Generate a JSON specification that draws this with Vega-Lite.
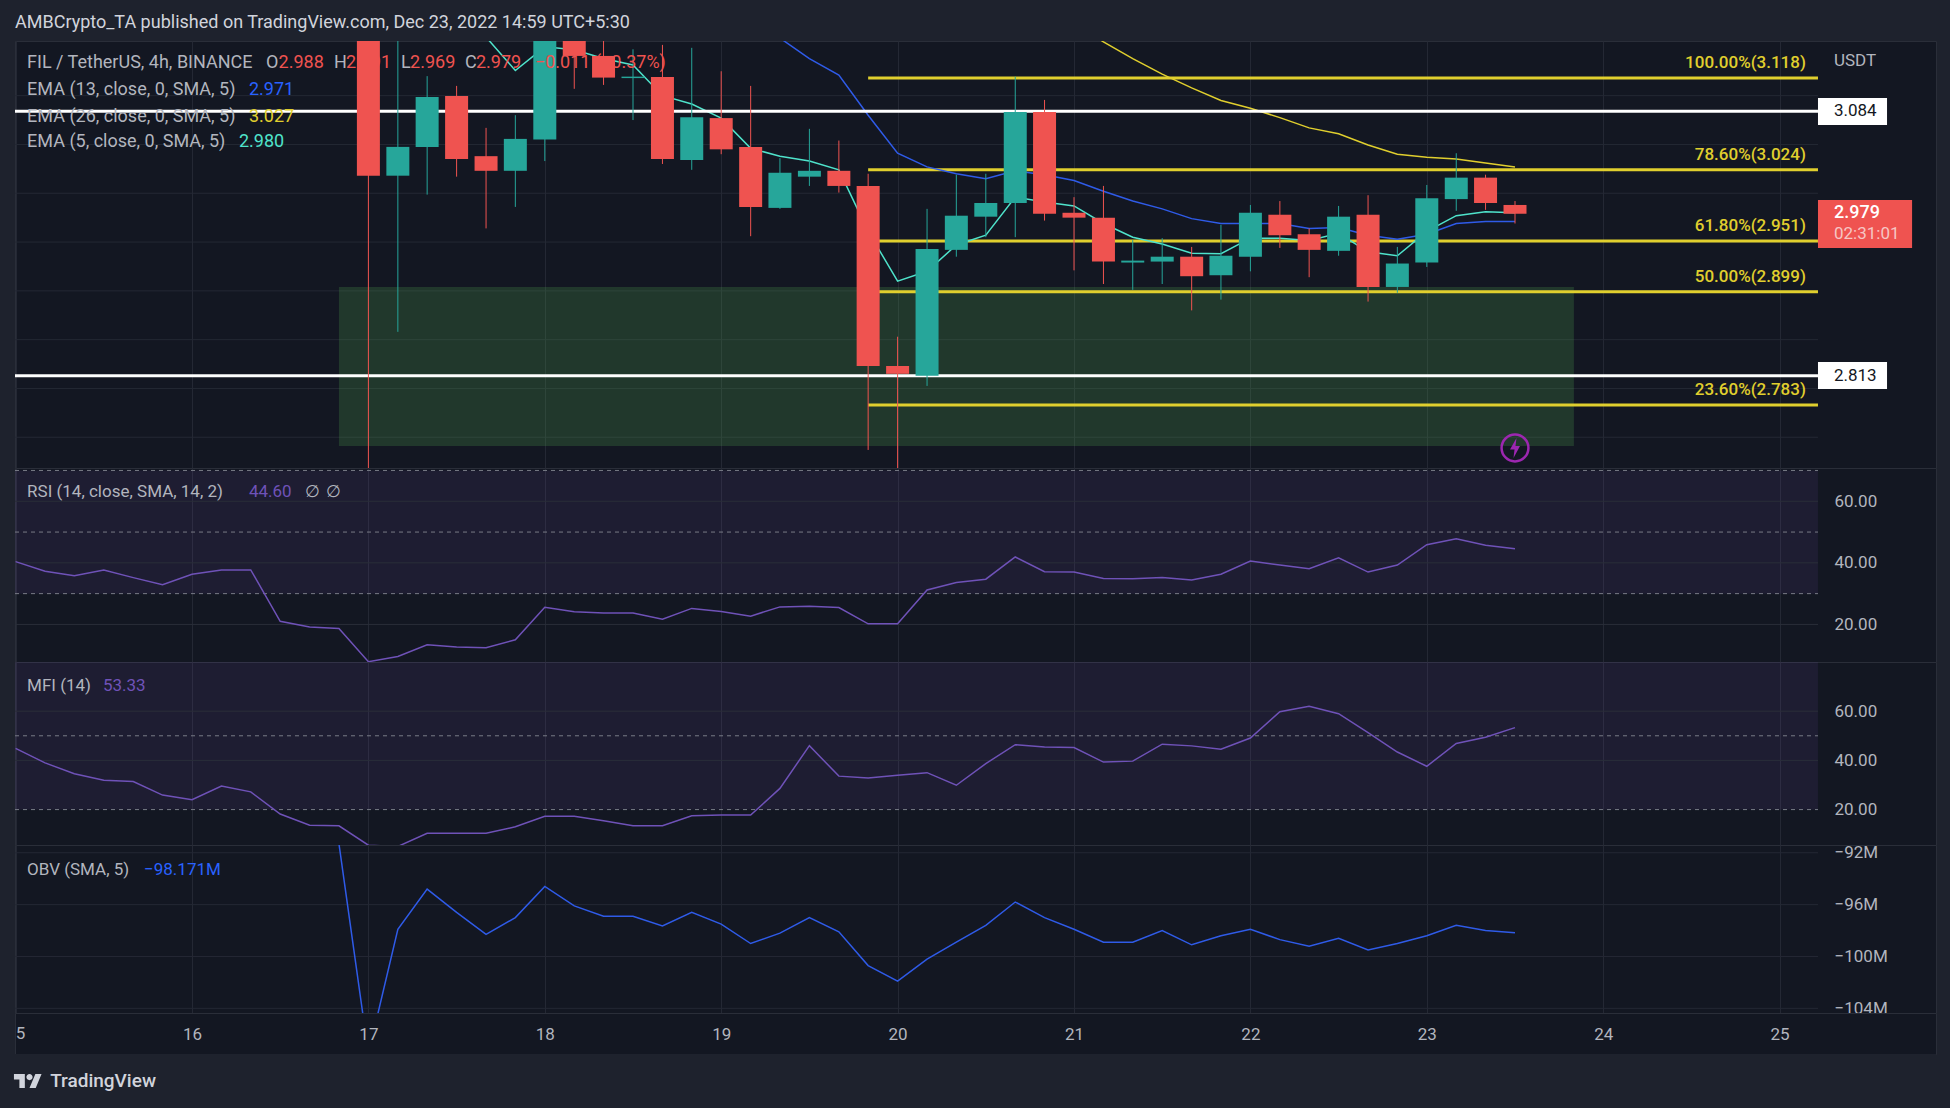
{"$schema":"https://vega.github.io/schema/vega-lite/v6.json","background":"#1e222d","padding":{"left":13,"top":13,"right":14,"bottom":0},"bounds":"flush","spacing":0,
"title":{"text":"AMBCrypto_TA published on TradingView.com, Dec 23, 2022 14:59 UTC+5:30","anchor":"start","frame":"group","font":"Roboto","fontSize":18,"fontWeight":400,"color":"#d1d4dc","offset":9,"dx":0},
"config":{"view":{"stroke":"#2a2e39","fill":"#131722"},"font":"Roboto","axis":{"labelFont":"Roboto","labelFontSize":17,"labelColor":"#b2b5be"}},
"datasets":{
"candles":[
{"t":17.0,"o":3.175,"h":3.2,"l":2.7,"c":3.018,"dir":"down"},{"t":17.167,"o":3.018,"h":3.17,"l":2.858,"c":3.0475,"dir":"up"},{"t":17.333,"o":3.0475,"h":3.12,"l":2.9986,"c":3.0987,"dir":"up"},{"t":17.5,"o":3.0997,"h":3.11,"l":3.017,"c":3.035,"dir":"down"},{"t":17.667,"o":3.038,"h":3.067,"l":2.964,"c":3.023,"dir":"down"},{"t":17.833,"o":3.023,"h":3.08,"l":2.986,"c":3.0557,"dir":"up"},{"t":18.0,"o":3.055,"h":3.19,"l":3.033,"c":3.17,"dir":"up"},{"t":18.167,"o":3.17,"h":3.2,"l":3.107,"c":3.1407,"dir":"down"},{"t":18.333,"o":3.1407,"h":3.16,"l":3.111,"c":3.1185,"dir":"down"},{"t":18.5,"o":3.118,"h":3.1475,"l":3.075,"c":3.1195,"dir":"up"},{"t":18.667,"o":3.119,"h":3.152,"l":3.03,"c":3.035,"dir":"down"},{"t":18.833,"o":3.034,"h":3.149,"l":3.024,"c":3.078,"dir":"up"},{"t":19.0,"o":3.077,"h":3.125,"l":3.04,"c":3.045,"dir":"down"},{"t":19.167,"o":3.0475,"h":3.11,"l":2.956,"c":2.986,"dir":"down"},{"t":19.333,"o":2.985,"h":3.036,"l":2.984,"c":3.021,"dir":"up"},{"t":19.5,"o":3.017,"h":3.066,"l":3.0075,"c":3.023,"dir":"up"},{"t":19.667,"o":3.023,"h":3.054,"l":3.0007,"c":3.0075,"dir":"down"},{"t":19.833,"o":3.0075,"h":3.02,"l":2.737,"c":2.823,"dir":"down"},{"t":20.0,"o":2.823,"h":2.853,"l":2.7,"c":2.815,"dir":"down"},{"t":20.167,"o":2.813,"h":2.984,"l":2.8026,"c":2.943,"dir":"up"},{"t":20.333,"o":2.942,"h":3.019,"l":2.935,"c":2.977,"dir":"up"},{"t":20.5,"o":2.976,"h":3.02,"l":2.955,"c":2.99,"dir":"up"},{"t":20.667,"o":2.99,"h":3.1195,"l":2.955,"c":3.0833,"dir":"up"},{"t":20.833,"o":3.0833,"h":3.0956,"l":2.972,"c":2.979,"dir":"down"},{"t":21.0,"o":2.98,"h":2.996,"l":2.921,"c":2.975,"dir":"down"},{"t":21.167,"o":2.975,"h":3.0075,"l":2.907,"c":2.93,"dir":"down"},{"t":21.333,"o":2.929,"h":2.952,"l":2.901,"c":2.931,"dir":"up"},{"t":21.5,"o":2.93,"h":2.954,"l":2.907,"c":2.935,"dir":"up"},{"t":21.667,"o":2.935,"h":2.945,"l":2.88,"c":2.915,"dir":"down"},{"t":21.833,"o":2.916,"h":2.9676,"l":2.891,"c":2.936,"dir":"up"},{"t":22.0,"o":2.935,"h":2.988,"l":2.92,"c":2.98,"dir":"up"},{"t":22.167,"o":2.978,"h":2.992,"l":2.944,"c":2.957,"dir":"down"},{"t":22.333,"o":2.958,"h":2.964,"l":2.914,"c":2.942,"dir":"down"},{"t":22.5,"o":2.941,"h":2.987,"l":2.936,"c":2.976,"dir":"up"},{"t":22.667,"o":2.978,"h":2.998,"l":2.889,"c":2.904,"dir":"down"},{"t":22.833,"o":2.904,"h":2.945,"l":2.898,"c":2.928,"dir":"up"},{"t":23.0,"o":2.929,"h":3.0085,"l":2.9245,"c":2.995,"dir":"up"},{"t":23.167,"o":2.994,"h":3.041,"l":2.982,"c":3.016,"dir":"up"},{"t":23.333,"o":3.016,"h":3.019,"l":2.983,"c":2.99,"dir":"down"},{"t":23.5,"o":2.988,"h":2.992,"l":2.969,"c":2.979,"dir":"down"}],
"ema":[
{"s":"EMA5","t":17.5,"v":3.2},{"s":"EMA5","t":17.667,"v":3.16},{"s":"EMA5","t":17.833,"v":3.1257},{"s":"EMA5","t":18.0,"v":3.15},{"s":"EMA5","t":18.167,"v":3.147},{"s":"EMA5","t":18.333,"v":3.138},{"s":"EMA5","t":18.5,"v":3.1315},{"s":"EMA5","t":18.667,"v":3.1},{"s":"EMA5","t":18.833,"v":3.0915},{"s":"EMA5","t":19.0,"v":3.077},{"s":"EMA5","t":19.167,"v":3.046},{"s":"EMA5","t":19.333,"v":3.038},{"s":"EMA5","t":19.5,"v":3.033},{"s":"EMA5","t":19.667,"v":3.024},{"s":"EMA5","t":19.833,"v":2.961},{"s":"EMA5","t":20.0,"v":2.91},{"s":"EMA5","t":20.167,"v":2.92},{"s":"EMA5","t":20.333,"v":2.947},{"s":"EMA5","t":20.5,"v":2.957},{"s":"EMA5","t":20.667,"v":2.996},{"s":"EMA5","t":20.833,"v":2.991},{"s":"EMA5","t":21.0,"v":2.987},{"s":"EMA5","t":21.167,"v":2.969},{"s":"EMA5","t":21.333,"v":2.955},{"s":"EMA5","t":21.5,"v":2.948},{"s":"EMA5","t":21.667,"v":2.9385},{"s":"EMA5","t":21.833,"v":2.938},{"s":"EMA5","t":22.0,"v":2.954},{"s":"EMA5","t":22.167,"v":2.954},{"s":"EMA5","t":22.333,"v":2.9515},{"s":"EMA5","t":22.5,"v":2.959},{"s":"EMA5","t":22.667,"v":2.94},{"s":"EMA5","t":22.833,"v":2.936},{"s":"EMA5","t":23.0,"v":2.961},{"s":"EMA5","t":23.167,"v":2.977},{"s":"EMA5","t":23.333,"v":2.981},{"s":"EMA5","t":23.5,"v":2.98},
{"s":"EMA13","t":19.167,"v":3.2},{"s":"EMA13","t":19.333,"v":3.159},{"s":"EMA13","t":19.5,"v":3.138},{"s":"EMA13","t":19.667,"v":3.121},{"s":"EMA13","t":19.833,"v":3.08},{"s":"EMA13","t":20.0,"v":3.041},{"s":"EMA13","t":20.167,"v":3.027},{"s":"EMA13","t":20.333,"v":3.02},{"s":"EMA13","t":20.5,"v":3.015},{"s":"EMA13","t":20.667,"v":3.023},{"s":"EMA13","t":20.833,"v":3.019},{"s":"EMA13","t":21.0,"v":3.013},{"s":"EMA13","t":21.167,"v":3.002},{"s":"EMA13","t":21.333,"v":2.992},{"s":"EMA13","t":21.5,"v":2.984},{"s":"EMA13","t":21.667,"v":2.974},{"s":"EMA13","t":21.833,"v":2.969},{"s":"EMA13","t":22.0,"v":2.969},{"s":"EMA13","t":22.167,"v":2.969},{"s":"EMA13","t":22.333,"v":2.964},{"s":"EMA13","t":22.5,"v":2.965},{"s":"EMA13","t":22.667,"v":2.957},{"s":"EMA13","t":22.833,"v":2.953},{"s":"EMA13","t":23.0,"v":2.958},{"s":"EMA13","t":23.167,"v":2.969},{"s":"EMA13","t":23.333,"v":2.971},{"s":"EMA13","t":23.5,"v":2.971},
{"s":"EMA26","t":21.0,"v":3.175},{"s":"EMA26","t":21.167,"v":3.155},{"s":"EMA26","t":21.333,"v":3.138},{"s":"EMA26","t":21.5,"v":3.122},{"s":"EMA26","t":21.667,"v":3.108},{"s":"EMA26","t":21.833,"v":3.095},{"s":"EMA26","t":22.0,"v":3.087},{"s":"EMA26","t":22.167,"v":3.0775},{"s":"EMA26","t":22.333,"v":3.067},{"s":"EMA26","t":22.5,"v":3.061},{"s":"EMA26","t":22.667,"v":3.0495},{"s":"EMA26","t":22.833,"v":3.04},{"s":"EMA26","t":23.0,"v":3.037},{"s":"EMA26","t":23.167,"v":3.035},{"s":"EMA26","t":23.333,"v":3.031},{"s":"EMA26","t":23.5,"v":3.027}],
"rsi":[{"t":15.0,"v":40.4},{"t":15.167,"v":37.25},{"t":15.333,"v":35.8},{"t":15.5,"v":37.7},{"t":15.667,"v":35.2},{"t":15.833,"v":32.9},{"t":16.0,"v":36.3},{"t":16.167,"v":37.7},{"t":16.333,"v":37.7},{"t":16.5,"v":21},{"t":16.667,"v":19.2},{"t":16.833,"v":18.7},{"t":17.0,"v":7.9},{"t":17.167,"v":9.6},{"t":17.333,"v":13.4},{"t":17.5,"v":12.7},{"t":17.667,"v":12.4},{"t":17.833,"v":15},{"t":18.0,"v":25.6},{"t":18.167,"v":24.1},{"t":18.333,"v":23.7},{"t":18.5,"v":23.7},{"t":18.667,"v":21.7},{"t":18.833,"v":25.2},{"t":19.0,"v":24.2},{"t":19.167,"v":22.7},{"t":19.333,"v":25.7},{"t":19.5,"v":25.9},{"t":19.667,"v":25.5},{"t":19.833,"v":20.2},{"t":20.0,"v":20.2},{"t":20.167,"v":31.2},{"t":20.333,"v":33.6},{"t":20.5,"v":34.7},{"t":20.667,"v":41.9},{"t":20.833,"v":37.1},{"t":21.0,"v":37},{"t":21.167,"v":34.9},{"t":21.333,"v":34.8},{"t":21.5,"v":35.2},{"t":21.667,"v":34.4},{"t":21.833,"v":36.3},{"t":22.0,"v":40.6},{"t":22.167,"v":39.3},{"t":22.333,"v":38.1},{"t":22.5,"v":41.6},{"t":22.667,"v":37},{"t":22.833,"v":39.3},{"t":23.0,"v":45.9},{"t":23.167,"v":47.8},{"t":23.333,"v":45.7},{"t":23.5,"v":44.6}],
"mfi":[{"t":15.0,"v":44.9},{"t":15.167,"v":39},{"t":15.333,"v":34.6},{"t":15.5,"v":31.9},{"t":15.667,"v":31.4},{"t":15.833,"v":25.9},{"t":16.0,"v":24},{"t":16.167,"v":29.6},{"t":16.333,"v":27.2},{"t":16.5,"v":18.2},{"t":16.667,"v":13.6},{"t":16.833,"v":13.4},{"t":17.0,"v":5.5},{"t":17.167,"v":5},{"t":17.333,"v":10.4},{"t":17.5,"v":10.4},{"t":17.667,"v":10.4},{"t":17.833,"v":13},{"t":18.0,"v":17.3},{"t":18.167,"v":17.3},{"t":18.333,"v":15.5},{"t":18.5,"v":13.4},{"t":18.667,"v":13.4},{"t":18.833,"v":17.5},{"t":19.0,"v":17.8},{"t":19.167,"v":17.8},{"t":19.333,"v":28.6},{"t":19.5,"v":46},{"t":19.667,"v":33.6},{"t":19.833,"v":32.8},{"t":20.0,"v":34},{"t":20.167,"v":35},{"t":20.333,"v":29.9},{"t":20.5,"v":38.7},{"t":20.667,"v":46.4},{"t":20.833,"v":45.4},{"t":21.0,"v":45.2},{"t":21.167,"v":39.3},{"t":21.333,"v":39.7},{"t":21.5,"v":46.6},{"t":21.667,"v":45.9},{"t":21.833,"v":44.5},{"t":22.0,"v":49.1},{"t":22.167,"v":59.8},{"t":22.333,"v":62},{"t":22.5,"v":59},{"t":22.667,"v":51.3},{"t":22.833,"v":43.4},{"t":23.0,"v":37.6},{"t":23.167,"v":46.9},{"t":23.333,"v":49.4},{"t":23.5,"v":53.33}],
"obv":[{"t":16.833,"v":-91.3},{"t":17.0,"v":-107.5},{"t":17.167,"v":-97.9},{"t":17.333,"v":-94.8},{"t":17.5,"v":-96.6},{"t":17.667,"v":-98.3},{"t":17.833,"v":-97},{"t":18.0,"v":-94.6},{"t":18.167,"v":-96.1},{"t":18.333,"v":-96.9},{"t":18.5,"v":-96.9},{"t":18.667,"v":-97.65},{"t":18.833,"v":-96.6},{"t":19.0,"v":-97.5},{"t":19.167,"v":-99},{"t":19.333,"v":-98.2},{"t":19.5,"v":-97},{"t":19.667,"v":-98.1},{"t":19.833,"v":-100.7},{"t":20.0,"v":-101.9},{"t":20.167,"v":-100.2},{"t":20.333,"v":-98.9},{"t":20.5,"v":-97.6},{"t":20.667,"v":-95.8},{"t":20.833,"v":-97},{"t":21.0,"v":-97.9},{"t":21.167,"v":-98.9},{"t":21.333,"v":-98.9},{"t":21.5,"v":-98},{"t":21.667,"v":-99.1},{"t":21.833,"v":-98.4},{"t":22.0,"v":-97.9},{"t":22.167,"v":-98.7},{"t":22.333,"v":-99.2},{"t":22.5,"v":-98.6},{"t":22.667,"v":-99.5},{"t":22.833,"v":-99},{"t":23.0,"v":-98.4},{"t":23.167,"v":-97.6},{"t":23.333,"v":-98},{"t":23.5,"v":-98.171}]
},
"vconcat":[
{"width":1921,"height":427,
"resolve":{"scale":{"color":"independent"}},
"encoding":{"x":{"field":"t","type":"quantitative","title":null,"scale":{"domain":[14.9966,25.8866],"nice":false,"zero":false,"padding":0},"axis":{"values":[15,16,17,18,19,20,21,22,23,24,25],"labels":false,"ticks":false,"domain":false,"grid":true,"gridColor":"#242834"}},
"y":{"field":"v","type":"quantitative","title":null,"scale":{"domain":[2.7185,3.156],"nice":false,"zero":false},"axis":{"orient":"right","offset":-118,"values":[2.75,2.8,2.85,2.9,2.95,3,3.05,3.1],"format":".3f","grid":false,"ticks":false,"domain":false,"labelPadding":16,"labelAlign":"left"}}},
"layer":[
{"data":{"values":[{"t":14.9966,"t2":25.2176,"v":2.75},{"t":14.9966,"t2":25.2176,"v":2.8},{"t":14.9966,"t2":25.2176,"v":2.85},{"t":14.9966,"t2":25.2176,"v":2.9},{"t":14.9966,"t2":25.2176,"v":2.95},{"t":14.9966,"t2":25.2176,"v":3},{"t":14.9966,"t2":25.2176,"v":3.05},{"t":14.9966,"t2":25.2176,"v":3.1}]},"mark":{"type":"rule","color":"#242834"},"encoding":{"x2":{"field":"t2"}}},
{"data":{"values":[{"t":16.833,"t2":23.834,"v":2.904,"v2":2.741}]},"mark":{"type":"rect","color":"#4b9b4a","opacity":0.25},"encoding":{"x2":{"field":"t2"},"y2":{"field":"v2"}}},
{"data":{"values":[{"t":19.833,"t2":25.2176,"v":3.118},{"t":19.833,"t2":25.2176,"v":3.024},{"t":19.833,"t2":25.2176,"v":2.951},{"t":19.833,"t2":25.2176,"v":2.899},{"t":19.833,"t2":25.2176,"v":2.783}]},"mark":{"type":"rule","color":"#e0cf2e","strokeWidth":3},"encoding":{"x2":{"field":"t2"}}},
{"data":{"name":"ema"},"mark":{"type":"line","strokeWidth":1.5,"clip":true},"encoding":{"detail":{"field":"s"},"color":{"field":"s","type":"nominal","legend":null,"scale":{"domain":["EMA5","EMA13","EMA26"],"range":["#4fe3cb","#2f5be8","#e0cf2e"]}}}},
{"data":{"values":[{"t":14.9966,"t2":25.2176,"v":3.084},{"t":14.9966,"t2":25.2176,"v":2.813}]},"mark":{"type":"rule","color":"#ffffff","strokeWidth":3},"encoding":{"x2":{"field":"t2"}}},
{"data":{"name":"candles"},"mark":{"type":"rule","strokeWidth":1,"clip":true},"encoding":{"y":{"field":"l","type":"quantitative","axis":null,"scale":{"domain":[2.7185,3.156],"nice":false,"zero":false}},"y2":{"field":"h"},"color":{"field":"dir","type":"nominal","legend":null,"scale":{"domain":["up","down"],"range":["#26a69a","#ef5350"]}}}},
{"data":{"name":"candles"},"mark":{"type":"bar","size":23,"orient":"vertical","clip":true},"encoding":{"y":{"field":"o","type":"quantitative","axis":null,"scale":{"domain":[2.7185,3.156],"nice":false,"zero":false}},"y2":{"field":"c"},"color":{"field":"dir","type":"nominal","legend":null,"scale":{"domain":["up","down"],"range":["#26a69a","#ef5350"]}}}},
{"data":{"values":[{"t":25.2176,"t2":25.609,"v":3.0976,"v2":3.07},{"t":25.2176,"t2":25.609,"v":2.8272,"v2":2.7995}]},"mark":{"type":"rect","color":"#ffffff"},"encoding":{"x2":{"field":"t2"},"y2":{"field":"v2"}}},
{"data":{"values":[{"t":25.2176,"t2":25.751,"v":2.9931,"v2":2.944}]},"mark":{"type":"rect","color":"#ef5350"},"encoding":{"x2":{"field":"t2"},"y2":{"field":"v2"}}},
{"data":{"values":[{"t":25.308,"v":3.084,"text":"3.084"},{"t":25.308,"v":2.813,"text":"2.813"}]},"mark":{"type":"text","align":"left","baseline":"middle","fontSize":17,"color":"#131722"},"encoding":{"text":{"field":"text"}}},
{"data":{"values":[{"t":25.308,"v":2.9798,"text":"2.979"}]},"mark":{"type":"text","align":"left","baseline":"middle","fontSize":18,"fontWeight":500,"color":"#ffffff"},"encoding":{"text":{"field":"text"}}},
{"data":{"values":[{"t":25.308,"v":2.958,"text":"02:31:01"}]},"mark":{"type":"text","align":"left","baseline":"middle","fontSize":17,"color":"#f6c6c4"},"encoding":{"text":{"field":"text"}}},
{"data":{"values":[{"t":25.308,"v":3.1356,"text":"USDT"}]},"mark":{"type":"text","align":"left","baseline":"middle","fontSize":17,"color":"#b2b5be"},"encoding":{"text":{"field":"text"}}},
{"data":{"values":[{"t":25.149,"v":3.118,"text":"100.00%(3.118)"},{"t":25.149,"v":3.024,"text":"78.60%(3.024)"},{"t":25.149,"v":2.951,"text":"61.80%(2.951)"},{"t":25.149,"v":2.899,"text":"50.00%(2.899)"},{"t":25.149,"v":2.783,"text":"23.60%(2.783)"}]},"mark":{"type":"text","align":"right","baseline":"middle","dy":-15,"fontSize":17,"fontWeight":500,"color":"#e0cf2e"},"encoding":{"text":{"field":"text"}}},
{"data":{"values":[{"t":15.065,"v":3.133,"text":"FIL / TetherUS, 4h, BINANCE","k":"label"},{"t":16.42,"v":3.133,"text":"O","k":"label"},{"t":16.491,"v":3.133,"text":"2.988","k":"red"},{"t":16.805,"v":3.133,"text":"H","k":"label"},{"t":16.873,"v":3.133,"text":"2.991","k":"red"},{"t":17.185,"v":3.133,"text":"L","k":"label"},{"t":17.236,"v":3.133,"text":"2.969","k":"red"},{"t":17.547,"v":3.133,"text":"C","k":"label"},{"t":17.61,"v":3.133,"text":"2.979","k":"red"},{"t":17.944,"v":3.133,"text":"−0.011 (−0.37%)","k":"red"},{"t":15.065,"v":3.1058,"text":"EMA (13, close, 0, SMA, 5)","k":"label"},{"t":16.323,"v":3.1058,"text":"2.971","k":"blue"},{"t":15.065,"v":3.0785,"text":"EMA (26, close, 0, SMA, 5)","k":"label"},{"t":16.323,"v":3.0785,"text":"3.027","k":"yellow"},{"t":15.065,"v":3.0526,"text":"EMA (5, close, 0, SMA, 5)","k":"label"},{"t":16.266,"v":3.0526,"text":"2.980","k":"teal"}]},"mark":{"type":"text","align":"left","baseline":"middle","fontSize":18},"encoding":{"text":{"field":"text"},"color":{"field":"k","type":"nominal","legend":null,"scale":{"domain":["label","red","blue","yellow","teal"],"range":["#b2b5be","#ef5350","#2962ff","#e0cf2e","#4fe3cb"]}}}},
{"data":{"values":[{"t":23.5,"v":2.739}]},"mark":{"type":"point","shape":"circle","size":720,"stroke":"#9c27b0","strokeWidth":2.5,"opacity":1,"filled":false},"encoding":{}},
{"data":{"values":[{"t":23.5,"v":2.739}]},"mark":{"type":"point","shape":"M0.15,-1 L-0.5,0.15 L-0.05,0.15 L-0.15,1 L0.5,-0.2 L0.05,-0.2 Z","size":400,"fill":"#9c27b0","filled":true,"opacity":1},"encoding":{}}
]},
{"width":1921,"height":194,
"encoding":{"x":{"field":"t","type":"quantitative","title":null,"scale":{"domain":[14.9966,25.8866],"nice":false,"zero":false},"axis":{"values":[15,16,17,18,19,20,21,22,23,24,25],"labels":false,"ticks":false,"domain":false,"grid":true,"gridColor":"#242834"}},
"y":{"field":"v","type":"quantitative","title":null,"scale":{"domain":[7.8,70.8],"nice":false,"zero":false},"axis":{"orient":"right","offset":-118,"values":[20,40,60],"format":".2f","grid":false,"ticks":false,"domain":false,"labelPadding":16,"labelAlign":"left"}}},
"layer":[
{"data":{"values":[{"t":14.9966,"t2":25.2176,"v":70,"v2":30}]},"mark":{"type":"rect","color":"#7e57c2","opacity":0.1},"encoding":{"x2":{"field":"t2"},"y2":{"field":"v2"}}},
{"data":{"values":[{"t":14.9966,"t2":25.2176,"v":20},{"t":14.9966,"t2":25.2176,"v":40},{"t":14.9966,"t2":25.2176,"v":60}]},"mark":{"type":"rule","color":"#2a2e39"},"encoding":{"x2":{"field":"t2"}}},
{"data":{"values":[{"t":14.9966,"t2":25.2176,"v":70},{"t":14.9966,"t2":25.2176,"v":50},{"t":14.9966,"t2":25.2176,"v":30}]},"mark":{"type":"rule","color":"#787b86","strokeDash":[4,4]},"encoding":{"x2":{"field":"t2"}}},
{"data":{"name":"rsi"},"mark":{"type":"line","color":"#6f52b8","strokeWidth":1.5,"clip":true}},
{"data":{"values":[{"t":15.065,"v":63,"text":"RSI (14, close, SMA, 14, 2)"},{"t":16.64,"v":63,"text":"∅"},{"t":16.76,"v":63,"text":"∅"}]},"mark":{"type":"text","align":"left","baseline":"middle","fontSize":17,"color":"#b2b5be"},"encoding":{"text":{"field":"text"}}},
{"data":{"values":[{"t":16.323,"v":63,"text":"44.60"}]},"mark":{"type":"text","align":"left","baseline":"middle","fontSize":17,"color":"#6f52b8"},"encoding":{"text":{"field":"text"}}}
]},
{"width":1921,"height":183,
"encoding":{"x":{"field":"t","type":"quantitative","title":null,"scale":{"domain":[14.9966,25.8866],"nice":false,"zero":false},"axis":{"values":[15,16,17,18,19,20,21,22,23,24,25],"labels":false,"ticks":false,"domain":false,"grid":true,"gridColor":"#242834"}},
"y":{"field":"v","type":"quantitative","title":null,"scale":{"domain":[5.6,80],"nice":false,"zero":false},"axis":{"orient":"right","offset":-118,"values":[20,40,60],"format":".2f","grid":false,"ticks":false,"domain":false,"labelPadding":16,"labelAlign":"left"}}},
"layer":[
{"data":{"values":[{"t":14.9966,"t2":25.2176,"v":80,"v2":20}]},"mark":{"type":"rect","color":"#7e57c2","opacity":0.1},"encoding":{"x2":{"field":"t2"},"y2":{"field":"v2"}}},
{"data":{"values":[{"t":14.9966,"t2":25.2176,"v":40},{"t":14.9966,"t2":25.2176,"v":60}]},"mark":{"type":"rule","color":"#2a2e39"},"encoding":{"x2":{"field":"t2"}}},
{"data":{"values":[{"t":14.9966,"t2":25.2176,"v":50},{"t":14.9966,"t2":25.2176,"v":20}]},"mark":{"type":"rule","color":"#787b86","strokeDash":[4,4]},"encoding":{"x2":{"field":"t2"}}},
{"data":{"name":"mfi"},"mark":{"type":"line","color":"#6f52b8","strokeWidth":1.5,"clip":true}},
{"data":{"values":[{"t":15.065,"v":70.2,"text":"MFI (14)"}]},"mark":{"type":"text","align":"left","baseline":"middle","fontSize":17,"color":"#b2b5be"},"encoding":{"text":{"field":"text"}}},
{"data":{"values":[{"t":15.495,"v":70.2,"text":"53.33"}]},"mark":{"type":"text","align":"left","baseline":"middle","fontSize":17,"color":"#6f52b8"},"encoding":{"text":{"field":"text"}}}
]},
{"width":1921,"height":168,
"encoding":{"x":{"field":"t","type":"quantitative","title":null,"scale":{"domain":[14.9966,25.8866],"nice":false,"zero":false},"axis":{"values":[15,16,17,18,19,20,21,22,23,24,25],"labels":false,"ticks":false,"domain":false,"grid":true,"gridColor":"#242834"}},
"y":{"field":"v","type":"quantitative","title":null,"scale":{"domain":[-104.36,-91.4],"nice":false,"zero":false},"axis":{"orient":"right","offset":-118,"values":[-92,-96,-100,-104],"labelExpr":"'−' + abs(datum.value) + 'M'","grid":false,"ticks":false,"domain":false,"labelPadding":16,"labelAlign":"left"}}},
"layer":[
{"data":{"values":[{"t":14.9966,"t2":25.2176,"v":-92},{"t":14.9966,"t2":25.2176,"v":-96},{"t":14.9966,"t2":25.2176,"v":-100},{"t":14.9966,"t2":25.2176,"v":-104}]},"mark":{"type":"rule","color":"#242834"},"encoding":{"x2":{"field":"t2"}}},
{"data":{"name":"obv"},"mark":{"type":"line","color":"#2f5be8","strokeWidth":1.5,"clip":true}},
{"data":{"values":[{"t":15.065,"v":-93.3,"text":"OBV (SMA, 5)"}]},"mark":{"type":"text","align":"left","baseline":"middle","fontSize":17,"color":"#b2b5be"},"encoding":{"text":{"field":"text"}}},
{"data":{"values":[{"t":15.728,"v":-93.3,"text":"−98.171M"}]},"mark":{"type":"text","align":"left","baseline":"middle","fontSize":17,"color":"#2962ff"},"encoding":{"text":{"field":"text"}}}
]},
{"width":1921,"height":41,
"data":{"values":[{"t":15.028,"v":0.48,"text":"5"}]},
"mark":{"type":"text","baseline":"middle","fontSize":17,"color":"#b2b5be"},
"encoding":{"x":{"field":"t","type":"quantitative","title":null,"scale":{"domain":[14.9966,25.8866],"nice":false,"zero":false},"axis":{"orient":"bottom","offset":-20,"values":[16,17,18,19,20,21,22,23,24,25],"grid":false,"ticks":false,"domain":false,"labelPadding":0,"labelBaseline":"middle","labelFlush":false}},
"y":{"field":"v","type":"quantitative","axis":null,"scale":{"domain":[0,1]}},"text":{"field":"text"}}},
{"width":1921,"height":54,"view":{"stroke":null,"fill":"#1e222d"},
"encoding":{"x":{"field":"t","type":"quantitative","axis":null,"scale":{"domain":[14.9966,25.8866],"nice":false,"zero":false}},"y":{"field":"v","type":"quantitative","axis":null,"scale":{"domain":[0,1]}}},
"layer":[
{"data":{"values":[{"t":15.07,"v":0.5}]},"mark":{"type":"point","shape":"M-0.222,0.5 L-0.611,0.5 L-0.611,-0.111 L-1,-0.111 L-1,-0.5 L-0.222,-0.5 Z M0.556,0.5 L0.111,0.5 L0.528,-0.5 L0.972,-0.5 Z M0.333,-0.278 A0.222,0.222 0 1,1 -0.111,-0.278 A0.222,0.222 0 1,1 0.333,-0.278 Z","size":784,"filled":true,"fill":"#d1d4dc","opacity":1}},
{"data":{"values":[{"t":15.196,"v":0.5,"text":"TradingView"}]},"mark":{"type":"text","align":"left","baseline":"middle","fontSize":19,"fontWeight":500,"color":"#d1d4dc"},"encoding":{"text":{"field":"text"}}}
]}
]}
